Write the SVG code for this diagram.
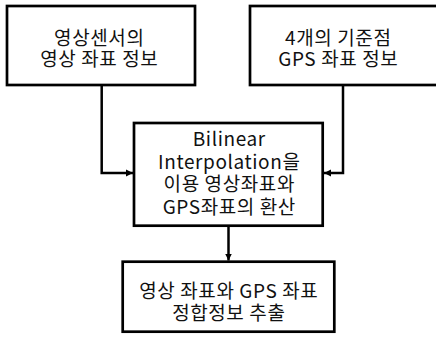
<svg xmlns="http://www.w3.org/2000/svg" width="436" height="343" viewBox="0 0 436 343">
<style>
.box{fill:#fff;stroke:#000;stroke-width:2.7}
.t{font-family:"Malgun Gothic","Noto Sans CJK KR",sans-serif;font-size:19px;letter-spacing:0.6px;fill:#111;text-anchor:middle}
.c{fill:none;stroke:#000;stroke-width:2.5}
</style>
<defs>
<marker id="ah" markerUnits="userSpaceOnUse" markerWidth="8" markerHeight="8" refX="7" refY="4" orient="auto">
<path d="M0,0.5 L7,4 L0,7.5 Z" fill="#000"/>
</marker>
</defs>
<rect width="436" height="343" fill="#fff"/>
<g id="connectors">
<polyline class="c" points="101.7,85 101.7,173 133,173" marker-end="url(#ah)"/>
<polyline class="c" points="343,85 343,173 324,173" marker-end="url(#ah)"/>
<line class="c" x1="228.5" y1="226" x2="228.5" y2="260.5" marker-end="url(#ah)"/>
</g>
<g id="n1">
<rect class="box" x="7" y="6" width="188" height="79"/>
<text class="t" x="99.3" y="45">영상센서의</text>
<text class="t" x="99.3" y="66">영상 좌표 정보</text>
</g>
<g id="n2">
<rect class="box" x="250" y="6" width="200" height="79"/>
<text class="t" x="338.3" y="45">4개의 기준점</text>
<text class="t" x="338.3" y="66">GPS 좌표 정보</text>
</g>
<g id="n3">
<rect class="box" x="134" y="123" width="188.7" height="102.7"/>
<text class="t" x="229.3" y="146">Bilinear</text>
<text class="t" x="229.3" y="168.5">Interpolation을</text>
<text class="t" x="229.3" y="191">이용 영상좌표와</text>
<text class="t" x="229.3" y="214">GPS좌표의 환산</text>
</g>
<g id="n4">
<rect class="box" x="122.7" y="261.7" width="211.6" height="70"/>
<text class="t" x="228.8" y="298">영상 좌표와 GPS 좌표</text>
<text class="t" x="228.8" y="320">정합정보 추출</text>
</g>
</svg>
